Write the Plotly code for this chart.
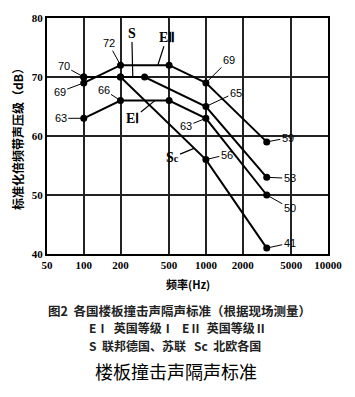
import math
import plotly.graph_objects as go

# ---- data ----
freq_E2 = [100, 200, 500, 1000, 3150]
val_E2 = [69, 72, 72, 69, 59]
freq_E1 = [100, 200, 500, 1000, 3150]
val_E1 = [63, 66, 66, 63, 50]
freq_S = [100, 200, 315, 1000, 3150]
val_S = [70, 70, 70, 65, 53]
freq_Sc = [100, 200, 1000, 3150]
val_Sc = [70, 70, 56, 41]
x_ticks = [50, 100, 200, 500, 1000, 2000, 5000, 10000]
y_ticks = [40, 50, 60, 70, 80]

W, H = 355, 397
L, R, T, B = 47, 27, 12, 143

fig = go.Figure()
for fx, fy in [(freq_E2, val_E2), (freq_E1, val_E1), (freq_S, val_S), (freq_Sc, val_Sc)]:
    fig.add_trace(go.Scatter(x=fx, y=fy, mode="lines+markers",
                             line=dict(color="black", width=2),
                             marker=dict(color="black", size=7),
                             showlegend=False, hoverinfo="skip"))

num_font = dict(family="Liberation Sans", size=11, color="black")
lab_font = dict(family="Liberation Serif", size=14, color="black", weight="bold")

# value labels: (freq, value, text, ax, ay)
value_labels = [
    (100, 70, "70", -20, -11),
    (100, 69, "69", -24, 9),
    (200, 72, "72", -12, -22),
    (200, 66, "66", -17, -11),
    (100, 63, "63", -23, 0),
    (1000, 69, "69", 23, -23),
    (1000, 65, "65", 30, -14),
    (1000, 63, "63", -20, 8),
    (3150, 59, "59", 21, -4),
    (1000, 56, "56", 21, -5),
    (3150, 53, "53", 23, 1),
    (3150, 50, "50", 23, 13),
    (3150, 41, "41", 23, -5),
]
annotations = []
for f, v, t, ax, ay in value_labels:
    annotations.append(dict(x=math.log10(f), y=v, text=t, showarrow=True, arrowhead=0,
                            arrowwidth=1, arrowcolor="black", ax=ax, ay=ay,
                            standoff=0, font=num_font))

# series name labels: (freq, value on line, text, ax, ay)
series_labels = [
    (252, 70, "S", -1, -44),
    (404, 72, "EⅡ", 9, -28),
    (382, 66, "EⅠ", -22, 18),
    (800, 57.9, "S<span style='font-size:10px'>c</span>", -22, 9),
]
for f, v, t, ax, ay in series_labels:
    annotations.append(dict(x=math.log10(f), y=v, text=t, showarrow=True, arrowhead=0,
                            arrowwidth=1.2, arrowcolor="black", ax=ax, ay=ay,
                            standoff=0, font=lab_font))

ph = H - T - B
def py(pix):
    return (H - B - pix) / ph

cjk = "Noto Sans CJK SC"
annotations += [
    dict(xref="paper", yref="paper", x=(17 - L) / (W - L - R), y=py(133),
         text="标准化倍频带声压级（dB）", textangle=-90, showarrow=False,
         xanchor="center", yanchor="middle",
         font=dict(family=cjk, size=12, color="black", weight="bold")),
    dict(xref="paper", yref="paper", x=(188 - L) / (W - L - R), y=py(285),
         text="频率(Hz)", showarrow=False, xanchor="center", yanchor="middle",
         font=dict(family=cjk, size=11, color="black", weight="bold")),
    dict(xref="paper", yref="paper", x=(179 - L) / (W - L - R), y=py(312),
         text="图2  各国楼板撞击声隔声标准（根据现场测量）", showarrow=False,
         xanchor="center", yanchor="middle",
         font=dict(family=cjk, size=12.5, color="#222", weight="bold")),
    dict(xref="paper", yref="paper", x=(178 - L) / (W - L - R), y=py(329.5),
         text="EⅠ  英国等级Ⅰ   EⅡ  英国等级Ⅱ", showarrow=False,
         xanchor="center", yanchor="middle",
         font=dict(family=cjk, size=12, color="#222", weight="bold")),
    dict(xref="paper", yref="paper", x=(175 - L) / (W - L - R), y=py(347.5),
         text="S  联邦德国、苏联   Sc  北欧各国", showarrow=False,
         xanchor="center", yanchor="middle",
         font=dict(family=cjk, size=12, color="#222", weight="bold")),
    dict(xref="paper", yref="paper", x=(176 - L) / (W - L - R), y=py(374),
         text="楼板撞击声隔声标准", showarrow=False,
         xanchor="center", yanchor="middle",
         font=dict(family=cjk, size=18, color="black")),
]

tick_font = dict(family="Liberation Serif", size=11, color="black", weight="bold")
fig.update_xaxes(type="log", range=[math.log10(50), math.log10(10000)],
                 tickvals=x_ticks, ticktext=[str(v) for v in x_ticks],
                 showgrid=True, gridcolor="#222", gridwidth=1.5,
                 showline=True, linecolor="black", linewidth=2, mirror=True,
                 ticks="", tickfont=tick_font, zeroline=False)
fig.update_yaxes(range=[40, 80], tickvals=y_ticks,
                 showgrid=True, gridcolor="#222", gridwidth=1.5,
                 showline=True, linecolor="black", linewidth=2, mirror=True,
                 ticks="", tickfont=tick_font, zeroline=False)
fig.update_layout(width=W, height=H, margin=dict(l=L, r=R, t=T, b=B),
                  paper_bgcolor="white", plot_bgcolor="white",
                  annotations=annotations, showlegend=False)
fig.write_html("out.html")
